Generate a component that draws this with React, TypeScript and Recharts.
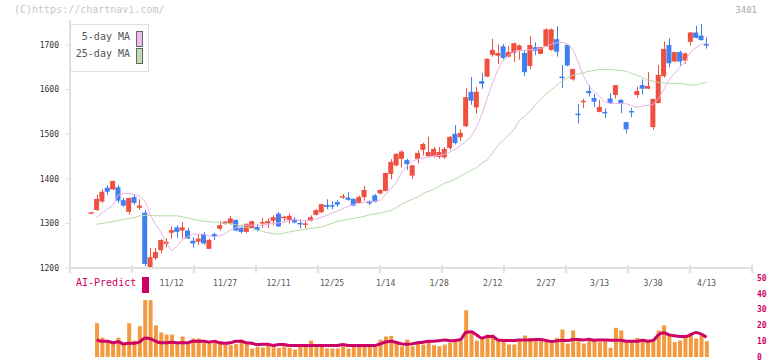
import { Bar, ComposedChart, Line, XAxis, YAxis } from "recharts";

// daily candles, oldest first (first one is the flat reference candle)
const open = [
  1325, 1330, 1349, 1380, 1376, 1381, 1352, 1326, 1359, 1335, 1324, 1202, 1222, 1240, 1254, 1279, 1291, 1284, 1284, 1261,
  1259, 1276, 1243, 1276, 1288, 1299, 1300, 1308, 1290, 1281, 1290, 1292, 1300, 1300, 1306, 1322, 1312, 1308, 1309, 1301,
  1299, 1306, 1319, 1325, 1341, 1341, 1348, 1358, 1358, 1355, 1346, 1359, 1350, 1363, 1367, 1373, 1411, 1430, 1445, 1442,
  1407, 1445, 1465, 1451, 1451, 1449, 1448, 1469, 1501, 1493, 1518, 1595, 1560, 1619, 1629, 1678, 1676, 1697, 1674, 1682,
  1689, 1682, 1653, 1695, 1680, 1697, 1689, 1713, 1629, 1700, 1623, 1546, 1573, 1597, 1581, 1550, 1550, 1580, 1588, 1577,
  1527, 1552, 1588, 1610, 1602, 1516, 1570, 1630, 1700, 1663, 1684, 1665, 1707, 1728, 1721, 1702,
];
const high = [
  1326, 1364, 1377, 1385, 1396, 1386, 1357, 1358, 1365, 1354, 1330, 1245, 1245, 1264, 1267, 1293, 1296, 1303, 1290, 1269,
  1276, 1281, 1265, 1279, 1305, 1306, 1317, 1309, 1295, 1300, 1306, 1298, 1312, 1311, 1318, 1326, 1317, 1322, 1314, 1309,
  1307, 1318, 1332, 1344, 1354, 1350, 1352, 1366, 1370, 1356, 1362, 1384, 1352, 1366, 1376, 1414, 1444, 1457, 1464, 1445,
  1431, 1464, 1481, 1494, 1471, 1471, 1471, 1496, 1520, 1511, 1603, 1628, 1606, 1637, 1670, 1714, 1701, 1702, 1698, 1705,
  1701, 1688, 1720, 1706, 1696, 1737, 1737, 1742, 1655, 1701, 1647, 1568, 1579, 1610, 1590, 1577, 1558, 1592, 1610, 1578,
  1528, 1559, 1607, 1623, 1639, 1580, 1655, 1708, 1715, 1685, 1687, 1683, 1729, 1743, 1747, 1717,
];
const low = [
  1325, 1328, 1346, 1364, 1376, 1346, 1337, 1320, 1342, 1330, 1204, 1200, 1218, 1233, 1246, 1266, 1268, 1266, 1265, 1246,
  1252, 1252, 1243, 1263, 1284, 1297, 1297, 1283, 1277, 1279, 1290, 1282, 1290, 1289, 1296, 1293, 1302, 1300, 1300, 1289,
  1289, 1304, 1318, 1323, 1332, 1332, 1337, 1355, 1351, 1338, 1345, 1351, 1341, 1347, 1365, 1372, 1399, 1428, 1426, 1420,
  1400, 1435, 1452, 1448, 1447, 1445, 1445, 1465, 1477, 1485, 1516, 1566, 1546, 1602, 1628, 1674, 1657, 1668, 1672, 1662,
  1667, 1630, 1646, 1677, 1680, 1695, 1687, 1674, 1603, 1652, 1620, 1524, 1558, 1584, 1561, 1549, 1536, 1567, 1580, 1547,
  1502, 1538, 1582, 1589, 1601, 1510, 1569, 1627, 1650, 1662, 1654, 1658, 1699, 1715, 1710, 1692,
];
const close = [
  1325, 1355, 1371, 1371, 1395, 1351, 1340, 1357, 1346, 1340, 1209, 1224, 1236, 1263, 1259, 1285, 1281, 1291, 1266, 1255,
  1266, 1255, 1263, 1270, 1296, 1304, 1311, 1284, 1281, 1299, 1305, 1285, 1303, 1305, 1314, 1293, 1315, 1317, 1302, 1299,
  1300, 1314, 1330, 1343, 1337, 1338, 1342, 1361, 1353, 1340, 1359, 1375, 1345, 1348, 1375, 1413, 1438, 1456, 1461, 1433,
  1430, 1458, 1478, 1460, 1467, 1460, 1467, 1494, 1480, 1503, 1583, 1575, 1595, 1613, 1669, 1689, 1682, 1671, 1684, 1704,
  1699, 1639, 1700, 1687, 1695, 1735, 1735, 1685, 1627, 1654, 1646, 1544, 1575, 1592, 1573, 1561, 1548, 1570, 1610, 1568,
  1511, 1550, 1597, 1602, 1608, 1579, 1633, 1691, 1659, 1684, 1663, 1681, 1728, 1716, 1711, 1700,
];
const ma5 = [
  null, 1314, 1323, 1332, 1340, 1364, 1367, 1367, 1365, 1361, 1350, 1320, 1298, 1280, 1257, 1238, 1249, 1264, 1270, 1276,
  1276, 1276, 1272, 1270, 1272, 1277, 1285, 1290, 1296, 1296, 1296, 1296, 1296, 1298, 1300, 1301, 1304, 1306, 1308, 1306,
  1306, 1307, 1310, 1314, 1318, 1323, 1328, 1333, 1338, 1342, 1345, 1347, 1349, 1350, 1352, 1365, 1378, 1392, 1414, 1428,
  1440, 1444, 1447, 1449, 1451, 1452, 1455, 1460, 1466, 1474, 1484, 1495, 1515, 1545, 1580, 1615, 1645, 1665, 1677, 1685,
  1687, 1688, 1689, 1690, 1692, 1697, 1702, 1705, 1706, 1702, 1690, 1662, 1630, 1608, 1595, 1585, 1572, 1569, 1569, 1569,
  1568, 1564, 1560, 1563, 1565, 1566, 1580, 1600, 1622, 1636, 1650, 1662, 1684, 1694, 1701, 1704,
];
const ma25 = [
  null, 1298, 1300, 1302, 1304, 1306, 1309, 1311, 1313, 1317, 1318, 1318, 1317, 1317, 1317, 1317, 1317, 1315, 1312, 1309,
  1307, 1305, 1304, 1303, 1302, 1300, 1299, 1297, 1294, 1291, 1288, 1285, 1282, 1279, 1277, 1276, 1278, 1281, 1283, 1285,
  1287, 1289, 1290, 1292, 1296, 1300, 1304, 1307, 1309, 1311, 1313, 1316, 1319, 1321, 1323, 1326, 1329, 1335, 1343, 1349,
  1354, 1359, 1367, 1372, 1376, 1383, 1390, 1394, 1399, 1406, 1413, 1419, 1425, 1435, 1442, 1458, 1475, 1487, 1498, 1511,
  1530, 1540, 1552, 1565, 1578, 1590, 1600, 1610, 1619, 1626, 1632, 1635, 1638, 1641, 1643, 1645, 1645, 1645, 1644, 1643,
  1641, 1636, 1632, 1627, 1622, 1619, 1616, 1615, 1614, 1614, 1614, 1612, 1610, 1610, 1614, 1616,
];
const volume = [
  null, 21.4, 12.3, 10.4, 9, 12.3, 8.5, 21.4, 10.4, 19.5, 36, 36, 20, 15.5, 14.2, 14.2, 9, 13, 8.5, 11.7,
  11.7, 9, 8.5, 10, 10, 7.9, 7.5, 8.3, 11, 9.4, 5.4, 6.5, 6, 7.5, 6.2, 5.8, 6.8, 5.8, 4.7, 6.8,
  6.5, 10.4, 6.2, 6.5, 5.4, 5.4, 5.4, 6.8, 5.4, 6.8, 6.5, 6.5, 6.5, 6.8, 11, 13, 13.4, 8.5, 6.8, 11,
  6.8, 9, 7.9, 10, 7.5, 6.8, 7.9, 9, 10, 10.4, 29.6, 15.7, 10.4, 12.5, 14.2, 14.2, 11, 11.5, 7.9, 7.9,
  10, 13.6, 12.1, 11, 11, 10, 10, 12.1, 17.4, 8.5, 16.8, 10, 8.5, 12.1, 11, 9.4, 10, 5.8, 18.5, 16.8,
  9.4, 9.4, 12.1, 11.5, 11, 11, 16.8, 20, 14.2, 9.4, 10.4, 13.2, 15.3, 11.7, 13.6, 10,
];
const aiPredict = [
  null, 10.9, 10, 10, 9, 9.6, 8.3, 8.7, 8.7, 9.5, 12, 11.6, 10, 9, 9, 9.4, 9, 9, 9, 10,
  10, 10, 9.4, 10, 9, 8.7, 9, 10, 10, 9, 8.7, 7.9, 8, 8, 7.3, 7.9, 7.9, 7.3, 7.3, 7.3,
  7.3, 7.3, 7.3, 7.3, 7.3, 7.3, 7.3, 7.9, 7.3, 7.3, 7.3, 7.3, 7.3, 7.3, 8.3, 9.5, 10, 9.2, 8.3, 8,
  8.3, 9, 9.3, 10, 10, 10.3, 10.8, 10.3, 10.5, 11, 15.5, 16, 14, 12, 13, 13, 10.8, 10.5, 10.4, 10.4,
  10.8, 10.8, 10.8, 11, 11, 10.5, 9.8, 10.2, 10.6, 10.4, 11, 11, 10.8, 11.2, 10.6, 10.8, 10.8, 10.6, 10.6, 10.6,
  10, 10, 10, 10.6, 10, 10.5, 14, 15.3, 14, 13.5, 13, 13, 14, 15.5, 14.5, 12.5,
];

const tickIdx = [15, 25, 35, 45, 55, 65, 75, 85, 95, 105, 115];
const tickLabels = ["11/12", "11/27", "12/11", "12/25", "1/14", "1/28", "2/12", "2/27", "3/13", "3/30", "4/13"];
const priceTicks = [1200, 1300, 1400, 1500, 1600, 1700];
const volTicks = [0, 10, 20, 30, 40, 50];

const UP = "#ef5040";
const DOWN = "#3f7ff0";
const MONO = "DejaVu Sans Mono, monospace";
const X_DOMAIN: [number, number] = [-4, 123.5];
// the time axis also carries 11 evenly spaced grey marks, independent of the dates
const GRID_STEPS = 11;
const gridMarks = Array.from(
  { length: GRID_STEPS + 1 },
  (_, k) => X_DOMAIN[0] + (k * (X_DOMAIN[1] - X_DOMAIN[0])) / GRID_STEPS,
);
const timeTicks = [...gridMarks, ...tickIdx].sort((a, b) => a - b);

const rows = open.map((o, i) => ({
  i,
  o,
  h: high[i],
  l: low[i],
  c: close[i],
  range: [low[i], high[i]],
  ma5: ma5[i],
  ma25: ma25[i],
  vol: volume[i],
  ai: aiPredict[i],
}));

function Candle(props: any) {
  const { x, y, width, height, payload } = props;
  if (x == null || y == null) return null;
  const { o, h, l, c } = payload;
  const span = h - l;
  const py = (p: number) => (span ? y + ((h - p) / span) * height : y);
  const color = c >= o ? UP : DOWN;
  const cx = Math.round(x + width / 2) + 0.5;
  const top = py(Math.max(o, c));
  const bot = py(Math.min(o, c));
  return (
    <g>
      <line x1={cx} x2={cx} y1={y} y2={y + height} stroke={color} strokeWidth={1} />
      <rect x={x} y={top} width={width} height={Math.max(bot - top, 1.5)} fill={color} />
    </g>
  );
}

// date label, or a short grey mark across the axis line for the even grid
function TimeTick(props: any) {
  const { x, y, payload } = props;
  const k = tickIdx.indexOf(payload.value);
  if (k < 0) {
    return <line x1={x} x2={x} y1={y - 15} y2={y - 7} stroke="#e0e0e0" strokeWidth={2} />;
  }
  return (
    <text x={x} y={y} dy="0.71em" textAnchor="middle" fontSize={8} fill="#555" fontFamily={MONO}>
      {tickLabels[k]}
    </text>
  );
}

export default function App() {
  return (
    <div style={{ position: "absolute", left: 0, top: 0, width: 772, height: 361, background: "#fff", fontFamily: MONO }}>
      <div style={{ position: "absolute", left: 14, top: 4, fontSize: 10, color: "#c8c8c8" }}>(C)https://chartnavi.com/</div>
      <div style={{ position: "absolute", right: 15, top: 5, fontSize: 9, color: "#aaa" }}>3401</div>

      <div style={{ position: "absolute", left: 0, top: 0 }}>
        <ComposedChart width={772} height={300} data={rows} margin={{ top: 20, right: 20, bottom: 0, left: 10 }}>
          <XAxis
            dataKey="i"
            type="number"
            domain={X_DOMAIN}
            allowDataOverflow
            ticks={timeTicks}
            interval={0}
            tick={<TimeTick />}
            tickLine={false}
            tickSize={0}
            tickMargin={12}
            axisLine={{ stroke: "#e0e0e0", strokeWidth: 2 }}
            height={32}
          />
          <YAxis
            domain={[1200, 1756]}
            allowDataOverflow
            ticks={priceTicks}
            interval={0}
            width={60}
            tick={{ fontSize: 8, fill: "#333", fontFamily: MONO }}
            tickLine={{ stroke: "#e0e0e0" }}
            tickSize={5}
            tickMargin={6}
            axisLine={{ stroke: "#e0e0e0", strokeWidth: 2 }}
          />
          <Line dataKey="ma25" stroke="#b4dba8" strokeWidth={1} dot={false} type="linear" isAnimationActive={false} />
          <Line dataKey="ma5" stroke="#e8b3ea" strokeWidth={1} dot={false} type="linear" isAnimationActive={false} />
          <Bar dataKey="range" barSize={5} shape={<Candle />} isAnimationActive={false} />
        </ComposedChart>
      </div>

      <div
        style={{
          position: "absolute",
          left: 70,
          top: 24,
          width: 77,
          height: 46,
          background: "#fff",
          border: "1px solid #ddd",
          fontSize: 10,
          color: "#555",
        }}
      >
        <div style={{ position: "absolute", right: 18, top: 6 }}>5-day MA</div>
        <div style={{ position: "absolute", right: 18, top: 23 }}>25-day MA</div>
        <div style={{ position: "absolute", left: 65, top: 6, width: 5, height: 14, background: "#eebbee", border: "1px solid #666" }} />
        <div style={{ position: "absolute", left: 65, top: 23, width: 5, height: 14, background: "#bfdfb0", border: "1px solid #666" }} />
      </div>

      <div style={{ position: "absolute", left: 76, top: 277, fontSize: 10, color: "#cc0066" }}>AI-Predict</div>
      <div style={{ position: "absolute", left: 142, top: 277, width: 7, height: 16, background: "#cc0066" }} />

      <div style={{ position: "absolute", left: 0, top: 270 }}>
        <ComposedChart width={772} height={91} data={rows} margin={{ top: 8, right: 0, bottom: 4, left: 70 }}>
          <XAxis dataKey="i" type="number" domain={X_DOMAIN} allowDataOverflow hide />
          <YAxis
            orientation="right"
            domain={[0, 50]}
            ticks={volTicks}
            interval={0}
            width={20}
            axisLine={false}
            tickLine={false}
            tickSize={0}
            tickMargin={5}
            tick={{ fontSize: 8, fill: "#cc0066", fontFamily: MONO, textAnchor: "start", fontWeight: "bold" }}
          />
          <Bar dataKey="vol" fill="#f29a40" barSize={4} isAnimationActive={false} />
          <Line dataKey="ai" stroke="#cc0066" strokeWidth={3} dot={false} type="monotone" isAnimationActive={false} />
        </ComposedChart>
      </div>
    </div>
  );
}
